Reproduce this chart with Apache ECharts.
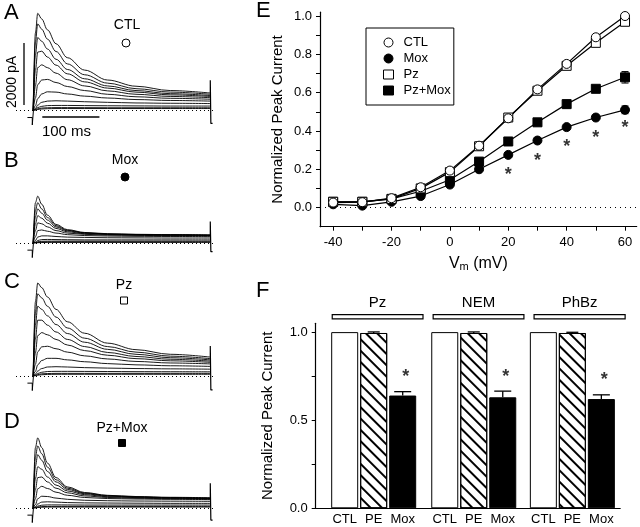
<!DOCTYPE html>
<html>
<head>
<meta charset="utf-8">
<script src="https://cdn.jsdelivr.net/npm/echarts@6/dist/echarts.min.js"></script>
<style>
html, body { margin: 0; padding: 0; background: #fff; }
#main { width: 640px; height: 527px; }
</style>
</head>
<body>
<div id="main"></div>
<script>
var FONT = '"Liberation Sans", Arial, Helvetica, sans-serif';

// ---- A-D current traces (pA), one row per step from 60 mV down to -40 mV
var traceTimes = [0, 4, 8, 15, 25, 40, 60, 90, 130, 180, 240, 310];
var ctlTraces = [
    [0, 2500, 3130, 2950, 2600, 2150, 1700, 1300, 980, 780, 640, 560],
    [0, 2200, 2790, 2620, 2300, 1900, 1500, 1150, 880, 700, 590, 520],
    [0, 1800, 2350, 2230, 1980, 1650, 1320, 1020, 790, 640, 540, 480],
    [0, 1300, 1880, 1910, 1720, 1460, 1180, 920, 720, 590, 500, 450],
    [0, 800, 1380, 1470, 1380, 1200, 990, 790, 630, 520, 450, 410],
    [0, 400, 830, 980, 1000, 900, 770, 640, 520, 440, 390, 360],
    [0, 150, 380, 530, 600, 590, 530, 460, 400, 350, 320, 300],
    [0, 60, 170, 260, 300, 310, 300, 280, 260, 240, 230, 220],
    [0, 30, 90, 130, 155, 160, 160, 155, 150, 145, 140, 140],
    [0, 20, 50, 75, 85, 90, 90, 88, 85, 85, 85, 85],
    [0, 10, 30, 45, 55, 60, 60, 60, 60, 60, 60, 60]
];
var moxTraces = [
    [0, 1300, 1510, 1250, 900, 600, 430, 340, 300, 280, 270, 260],
    [0, 1050, 1300, 1100, 820, 560, 410, 330, 290, 275, 265, 255],
    [0, 850, 1100, 960, 740, 520, 390, 320, 285, 270, 260, 250],
    [0, 620, 880, 800, 640, 470, 360, 300, 275, 260, 250, 240],
    [0, 400, 650, 620, 520, 400, 320, 280, 255, 245, 235, 230],
    [0, 200, 400, 420, 380, 320, 270, 240, 225, 215, 210, 205],
    [0, 80, 190, 230, 230, 210, 190, 180, 170, 165, 160, 160],
    [0, 30, 80, 110, 115, 110, 105, 100, 100, 100, 100, 100],
    [0, 15, 40, 55, 60, 60, 60, 60, 60, 60, 60, 60],
    [0, 10, 20, 30, 35, 35, 35, 35, 35, 35, 35, 35],
    [0, 5, 10, 15, 20, 20, 20, 20, 20, 20, 20, 20]
];
var pzTraces = [
    [0, 2400, 3000, 2850, 2550, 2150, 1750, 1380, 1060, 850, 700, 610],
    [0, 2050, 2650, 2520, 2250, 1900, 1550, 1220, 950, 770, 640, 560],
    [0, 1650, 2250, 2150, 1940, 1660, 1370, 1090, 860, 700, 590, 520],
    [0, 1200, 1800, 1800, 1640, 1420, 1180, 950, 760, 630, 540, 480],
    [0, 750, 1300, 1400, 1330, 1180, 1000, 820, 670, 560, 490, 440],
    [0, 380, 780, 940, 960, 880, 770, 650, 550, 470, 420, 390],
    [0, 150, 360, 500, 570, 570, 520, 460, 400, 360, 330, 310],
    [0, 60, 160, 240, 290, 300, 290, 270, 255, 240, 230, 220],
    [0, 30, 80, 120, 145, 150, 150, 148, 145, 140, 138, 135],
    [0, 15, 45, 70, 80, 85, 85, 85, 85, 85, 85, 85],
    [0, 10, 25, 40, 50, 55, 55, 55, 55, 55, 55, 55]
];
var pzMoxTraces = [
    [0, 1950, 2260, 1950, 1450, 980, 680, 500, 410, 370, 345, 330],
    [0, 1650, 2000, 1750, 1320, 910, 640, 480, 400, 360, 335, 320],
    [0, 1350, 1720, 1540, 1180, 840, 600, 460, 385, 350, 325, 310],
    [0, 950, 1330, 1250, 1000, 740, 550, 430, 365, 335, 315, 300],
    [0, 600, 980, 1000, 840, 640, 490, 390, 340, 315, 300, 290],
    [0, 300, 620, 700, 630, 510, 410, 340, 305, 290, 280, 270],
    [0, 110, 300, 380, 370, 320, 280, 250, 235, 225, 220, 215],
    [0, 40, 130, 190, 200, 190, 175, 165, 160, 155, 150, 150],
    [0, 20, 60, 90, 100, 100, 98, 95, 95, 95, 95, 95],
    [0, 10, 30, 45, 50, 52, 52, 52, 52, 52, 52, 52],
    [0, 5, 15, 25, 30, 30, 30, 30, 30, 30, 30, 30]
];
var tailTops = [970, 690, 970, 800];
var tailBottoms = [-420, -280, -450, -390];
var stepArtifact = [[-10, -230], [-1.5, -230], [-1.5, -470], [0.5, -470], [0.5, 0]];
var panelNames = ['CTL', 'Mox', 'Pz', 'Pz+Mox'];

// ---- E: normalized peak current vs Vm
var vm = [-40, -30, -20, -10, 0, 10, 20, 30, 40, 50, 60];
var ctlPeak = [0.026, 0.028, 0.049, 0.106, 0.193, 0.323, 0.466, 0.617, 0.75, 0.889, 1.0];
var moxPeak = [0.017, 0.01, 0.03, 0.06, 0.12, 0.20, 0.275, 0.35, 0.42, 0.47, 0.51];
var pzPeak = [0.03, 0.03, 0.045, 0.10, 0.185, 0.32, 0.47, 0.61, 0.74, 0.86, 0.97];
var pzMoxPeak = [0.03, 0.03, 0.045, 0.085, 0.145, 0.24, 0.345, 0.445, 0.54, 0.62, 0.68];
var moxErr = [0, 0, 0, 0, 0, 0, 0, 0, 0.01, 0.01, 0.02];
var pzMoxErr = [0, 0, 0, 0, 0, 0, 0, 0, 0.02, 0.015, 0.03];
var starVm = [20, 30, 40, 50, 60];
var starPeak = [0.19, 0.265, 0.335, 0.385, 0.435];

// ---- F: bars
var groupNames = ['Pz', 'NEM', 'PhBz'];
var barNames = ['CTL', 'PE', 'Mox', 'CTL', 'PE', 'Mox', 'CTL', 'PE', 'Mox'];
var barPos = [1, 2, 3, 4.45, 5.45, 6.45, 7.85, 8.85, 9.85];
var ctlBar = [1.0, 1.0, 1.0];
var peBar = [0.995, 0.995, 0.995];
var moxBar = [0.64, 0.63, 0.62];
var peBarErr = [0.006, 0.006, 0.004];
var moxBarErr = [0.022, 0.035, 0.024];
var fStarPeak = [0.767, 0.767, 0.748];
var groupSpan = [[0.57, 3.7], [4.05, 7.18], [7.53, 10.67]];

var myChart = echarts.init(document.getElementById('main'));

var grids = [], xAxes = [], yAxes = [], series = [];
var panelTops = [5, 137.6, 270.6, 402.6];
var panelTraces = [ctlTraces, moxTraces, pzTraces, pzMoxTraces];

for (var p = 0; p < 4; p++) {
    grids.push({left: 16, top: panelTops[p], width: 200, height: 124, outerBoundsMode: 'none'});
    xAxes.push({type: 'value', gridIndex: p, min: -30, max: 320, show: false});
    yAxes.push({type: 'value', gridIndex: p, min: -600, max: 3400, show: false});
    var rows = panelTraces[p];
    for (var k = 0; k < rows.length; k++) {
        series.push({
            type: 'line', xAxisIndex: p, yAxisIndex: p, silent: true,
            data: traceTimes.map(function (t, j) { return [t, this[j]]; }, rows[k]),
            smooth: 0.35, smoothMonotone: 'x', showSymbol: false,
            lineStyle: {color: '#000', width: 0.9}
        });
    }
    series.push({
        type: 'line', xAxisIndex: p, yAxisIndex: p, silent: true, showSymbol: false,
        data: stepArtifact,
        lineStyle: {color: '#000', width: 1},
        markLine: {
            silent: true, symbol: 'none', label: {show: false},
            lineStyle: {type: [1, 3], color: '#000', width: 1},
            data: [{yAxis: 0}]
        }
    });
    series.push({
        type: 'line', xAxisIndex: p, yAxisIndex: p, silent: true, showSymbol: false,
        data: [[310, rows[0][rows[0].length - 1]], [310, tailTops[p]], [311, tailBottoms[p]], [314, tailBottoms[p]]],
        lineStyle: {color: '#000', width: 1.2}
    });
}
// scale bars on A
series.push({type: 'line', xAxisIndex: 0, yAxisIndex: 0, silent: true, showSymbol: false,
    data: [[-16, 175], [-16, 2175]], lineStyle: {color: '#000', width: 1.3}});
series.push({type: 'line', xAxisIndex: 0, yAxisIndex: 0, silent: true, showSymbol: false,
    data: [[16, -213], [116, -213]], lineStyle: {color: '#000', width: 1.3}});

// ---- E
grids.push({left: 320, top: 12.2, right: 3.3, bottom: 300.3, outerBoundsMode: 'none'});
xAxes.push({
    type: 'value', gridIndex: 4, min: -44.5, max: 64,
    name: '{a|V}{s|m}{a| (mV)}', nameLocation: 'middle', nameGap: 27,
    nameTextStyle: {rich: {
        a: {fontSize: 16, fontFamily: FONT, color: '#000'},
        s: {fontSize: 11, fontFamily: FONT, color: '#000', verticalAlign: 'bottom', padding: [8, 0, 0, 0]}
    }},
    axisLine: {onZero: false, lineStyle: {color: '#000', width: 1.2}},
    axisTick: {show: true, length: 4, lineStyle: {color: '#000'}, customValues: vm},
    axisLabel: {customValues: [-40, -20, 0, 20, 40, 60], fontSize: 13, color: '#000', fontFamily: FONT, margin: 9},
    splitLine: {show: false}
});
yAxes.push({
    type: 'value', gridIndex: 4, min: -0.1, max: 1.02,
    name: 'Normalized Peak Current', nameLocation: 'middle', nameRotate: 90, nameGap: 35,
    nameTextStyle: {fontSize: 15, fontFamily: FONT, color: '#000'},
    axisLine: {show: true, onZero: false, lineStyle: {color: '#000', width: 1.2}},
    axisTick: {show: true, length: 4, lineStyle: {color: '#000'}, customValues: [0, 0.1, 0.2, 0.3, 0.4, 0.5, 0.6, 0.7, 0.8, 0.9, 1.0]},
    axisLabel: {customValues: [0, 0.2, 0.4, 0.6, 0.8, 1.0], fontSize: 13, color: '#000', fontFamily: FONT, margin: 8,
        formatter: function (v) { return v.toFixed(1); }},
    splitLine: {show: false}
});

function pairs(xs, ys) { return xs.map(function (x, i) { return [x, ys[i]]; }); }
function triples(xs, ys, es) { return xs.map(function (x, i) { return [x, ys[i], es[i]]; }); }

function errRender(params, api) {
    var x = api.value(0), y = api.value(1), e = api.value(2);
    if (!e) return;
    var t = api.coord([x, y + e]), b = api.coord([x, y - e]);
    var w = 3.5;
    var st = {stroke: '#000', lineWidth: 1};
    return {type: 'group', children: [
        {type: 'line', shape: {x1: t[0], y1: t[1], x2: b[0], y2: b[1]}, style: st},
        {type: 'line', shape: {x1: t[0] - w, y1: t[1], x2: t[0] + w, y2: t[1]}, style: st},
        {type: 'line', shape: {x1: b[0] - w, y1: b[1], x2: b[0] + w, y2: b[1]}, style: st}
    ]};
}

series.push({type: 'custom', xAxisIndex: 4, yAxisIndex: 4, silent: true, renderItem: errRender,
    encode: {x: 0, y: 1}, data: triples(vm, moxPeak, moxErr), z: 1});
series.push({type: 'custom', xAxisIndex: 4, yAxisIndex: 4, silent: true, renderItem: errRender,
    encode: {x: 0, y: 1}, data: triples(vm, pzMoxPeak, pzMoxErr), z: 1});

var eSeries = [
    {name: 'Pz+Mox', d: pzMoxPeak, symbol: 'rect', fill: '#000', size: 9},
    {name: 'Mox', d: moxPeak, symbol: 'circle', fill: '#000', size: 9},
    {name: 'Pz', d: pzPeak, symbol: 'rect', fill: '#fff', size: 9},
    {name: 'CTL', d: ctlPeak, symbol: 'circle', fill: '#fff', size: 9}
];
eSeries.forEach(function (s) {
    series.push({
        name: s.name, type: 'line', xAxisIndex: 4, yAxisIndex: 4, data: pairs(vm, s.d),
        symbol: s.symbol, symbolSize: s.size, showAllSymbol: true,
        lineStyle: {color: '#000', width: 1.2},
        itemStyle: {color: s.fill, borderColor: '#000', borderWidth: 1}
    });
});
var starLabel = {show: true, position: 'inside', formatter: '*', fontSize: 18, fontWeight: 'bold',
    color: '#000', textBorderWidth: 0, fontFamily: FONT, offset: [0, 4]};
series.push({
    type: 'scatter', xAxisIndex: 4, yAxisIndex: 4, silent: true, data: pairs(starVm, starPeak),
    symbolSize: 2, itemStyle: {color: 'rgba(0,0,0,0)'},
    label: starLabel,
    markLine: {
        silent: true, symbol: 'none', label: {show: false},
        lineStyle: {type: [1, 4], color: '#000', width: 1},
        data: [{yAxis: 0}]
    }
});

// ---- F
grids.push({left: 315.7, top: 323.3, width: 304.5, bottom: 18.7, outerBoundsMode: 'none'});
xAxes.push({
    type: 'value', gridIndex: 5, min: 0, max: 10.5,
    axisLine: {onZero: false, lineStyle: {color: '#000', width: 1.2}},
    axisTick: {show: false},
    axisLabel: {customValues: barPos, fontSize: 13, color: '#000', fontFamily: FONT, margin: 5,
        formatter: function (v) {
            for (var i = 0; i < barPos.length; i++) { if (Math.abs(barPos[i] - v) < 1e-6) return barNames[i]; }
            return '';
        }},
    splitLine: {show: false}
});
yAxes.push({
    type: 'value', gridIndex: 5, min: 0, max: 1.05,
    name: 'Normalized Peak Current', nameLocation: 'middle', nameRotate: 90, nameGap: 40,
    nameTextStyle: {fontSize: 15, fontFamily: FONT, color: '#000'},
    axisLine: {show: true, onZero: false, lineStyle: {color: '#000', width: 1.2}},
    axisTick: {show: true, length: 4, lineStyle: {color: '#000'}, customValues: [0, 0.25, 0.5, 0.75, 1.0]},
    axisLabel: {customValues: [0, 0.5, 1.0], fontSize: 13, color: '#000', fontFamily: FONT, margin: 8,
        formatter: function (v) { return v.toFixed(1); }},
    splitLine: {show: false}
});

var hatch = {
    symbol: 'rect', symbolSize: 1, dashArrayX: [1, 0], dashArrayY: [1.5, 6],
    rotation: Math.PI / 4, color: '#000', backgroundColor: 'rgba(0,0,0,0)'
};
var fBarData = [];
for (var g = 0; g < 3; g++) {
    fBarData.push({value: [barPos[g * 3], ctlBar[g]], itemStyle: {color: '#fff', borderColor: '#000', borderWidth: 1}});
    fBarData.push({value: [barPos[g * 3 + 1], peBar[g]], itemStyle: {color: '#fff', borderColor: '#000', borderWidth: 1, decal: hatch}});
    fBarData.push({value: [barPos[g * 3 + 2], moxBar[g]], itemStyle: {color: '#000', borderColor: '#000', borderWidth: 1}});
}
series.push({type: 'bar', xAxisIndex: 5, yAxisIndex: 5, silent: true, barWidth: 27, data: fBarData});

var fErr = [];
for (var g2 = 0; g2 < 3; g2++) {
    fErr.push([barPos[g2 * 3 + 1], peBar[g2], peBarErr[g2], 6]);
    fErr.push([barPos[g2 * 3 + 2], moxBar[g2], moxBarErr[g2], 8.5]);
}
series.push({
    type: 'custom', xAxisIndex: 5, yAxisIndex: 5, silent: true, encode: {x: 0, y: 1}, data: fErr, z: 3,
    renderItem: function (params, api) {
        var x = api.value(0), y = api.value(1), e = api.value(2), w = api.value(3);
        var b = api.coord([x, y]), t = api.coord([x, y + e]);
        var st = {stroke: '#000', lineWidth: 1.3};
        return {type: 'group', children: [
            {type: 'line', shape: {x1: t[0], y1: t[1], x2: b[0], y2: b[1]}, style: st},
            {type: 'line', shape: {x1: t[0] - w, y1: t[1], x2: t[0] + w, y2: t[1]}, style: st}
        ]};
    }
});
series.push({
    type: 'scatter', xAxisIndex: 5, yAxisIndex: 5, silent: true,
    data: pairs([barPos[2], barPos[5], barPos[8]], fStarPeak),
    symbolSize: 2, itemStyle: {color: 'rgba(0,0,0,0)'},
    label: Object.assign({}, starLabel, {offset: [3, 4]})
});
series.push({
    type: 'custom', xAxisIndex: 5, yAxisIndex: 5, silent: true, clip: false, encode: {x: [0, 1]},
    data: groupSpan,
    renderItem: function (params, api) {
        var x0 = api.value(0), x1 = api.value(1);
        var a = api.coord([x0, 1.099]), b = api.coord([x1, 1.075]);
        var m = api.coord([(x0 + x1) / 2, 1.166]);
        return {type: 'group', children: [
            {type: 'rect', shape: {x: a[0], y: a[1], width: b[0] - a[0], height: b[1] - a[1]},
                style: {fill: '#fff', stroke: '#000', lineWidth: 1.2}},
            {type: 'text', x: m[0], y: m[1], style: {text: groupNames[params.dataIndex], fill: '#000',
                font: '15px ' + FONT, align: 'center', verticalAlign: 'middle', textAlign: 'center', textVerticalAlign: 'middle'}}
        ]};
    }
});

function txt(x, y, s, size, align) {
    return {type: 'text', x: x, y: y, silent: true, style: {text: s, fill: '#000', font: size + 'px ' + FONT,
        align: align || 'center', verticalAlign: 'middle', textAlign: align || 'center', textVerticalAlign: 'middle'}};
}

var graphics = [
    txt(4, 12.5, 'A', 22, 'left'), txt(4, 160.5, 'B', 22, 'left'), txt(4, 281.5, 'C', 22, 'left'),
    txt(4, 421.5, 'D', 22, 'left'), txt(256, 10.5, 'E', 22, 'left'), txt(256, 291, 'F', 22, 'left'),
    txt(127, 25.5, panelNames[0], 14), txt(125, 160, panelNames[1], 14),
    txt(124, 285, panelNames[2], 14), txt(122, 428, panelNames[3], 14),
    txt(66.5, 132, '100 ms', 15),
    {type: 'text', x: 12, y: 82, rotation: Math.PI / 2, silent: true,
        style: {text: '2000 pA', fill: '#000', font: '14px ' + FONT, align: 'center', verticalAlign: 'middle', textAlign: 'center', textVerticalAlign: 'middle'}},
    {type: 'circle', shape: {cx: 126, cy: 43, r: 4}, style: {fill: '#fff', stroke: '#000', lineWidth: 1}},
    {type: 'circle', shape: {cx: 125, cy: 177, r: 4}, style: {fill: '#000', stroke: '#000', lineWidth: 1}},
    {type: 'rect', shape: {x: 120.5, y: 297, width: 7, height: 7}, style: {fill: '#fff', stroke: '#000', lineWidth: 1}},
    {type: 'rect', shape: {x: 118.5, y: 439.5, width: 7, height: 7}, style: {fill: '#000', stroke: '#000', lineWidth: 1}}
];

var option = {
    animation: false,
    backgroundColor: '#fff',
    textStyle: {fontFamily: FONT, color: '#000'},
    legend: {
        orient: 'vertical', left: 366, top: 28,
        borderColor: '#000', borderWidth: 1, padding: [8, 3, 8, 17],
        itemWidth: 10, itemHeight: 9, itemGap: 3,
        textStyle: {fontSize: 13, color: '#000', fontFamily: FONT, padding: [0, 0, 0, 5]},
        selectedMode: false,
        data: [
            {name: 'CTL', icon: 'circle', itemStyle: {color: '#fff', borderColor: '#000', borderWidth: 1}},
            {name: 'Mox', icon: 'circle', itemStyle: {color: '#000', borderColor: '#000', borderWidth: 1}},
            {name: 'Pz', icon: 'rect', itemStyle: {color: '#fff', borderColor: '#000', borderWidth: 1}},
            {name: 'Pz+Mox', icon: 'rect', itemStyle: {color: '#000', borderColor: '#000', borderWidth: 1}}
        ]
    },
    grid: grids,
    xAxis: xAxes,
    yAxis: yAxes,
    series: series,
    graphic: graphics
};
myChart.setOption(option);
</script>
</body>
</html>
